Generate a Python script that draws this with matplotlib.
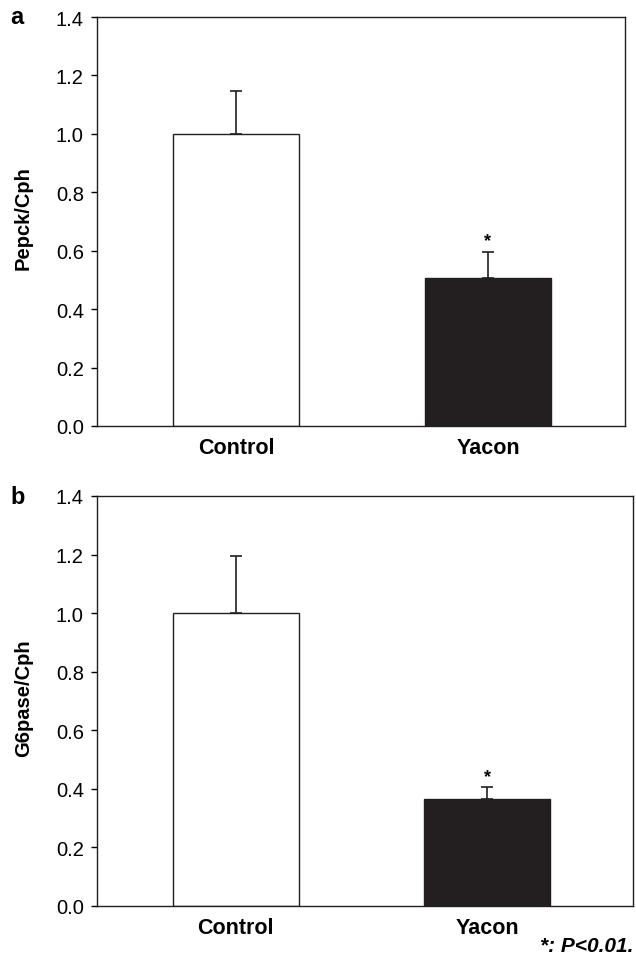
import matplotlib.pyplot as plt

plt.rcParams['font.family'] = ['Liberation Sans', 'DejaVu Sans']

# data
groups = ['Control', 'Yacon']
pepck = [1.0, 0.505]
pepck_err = [0.147, 0.092]
g6pase = [1.0, 0.365]
g6pase_err = [0.195, 0.040]
yticks = [0.0, 0.2, 0.4, 0.6, 0.8, 1.0, 1.2, 1.4]

fig = plt.figure(figsize=(6.36, 9.62), dpi=100)
ax_a = fig.add_axes([97 / 636, 1 - 427 / 962, 528 / 636, 409 / 962])
ax_b = fig.add_axes([97 / 636, 1 - 907 / 962, 536 / 636, 410 / 962])

panels = [
    (ax_a, pepck, pepck_err, 'Pepck/Cph', 'a', 1.544, 18, 528),
    (ax_b, g6pase, g6pase_err, 'G6pase/Cph', 'b', 1.580, 498, 536),
]

for ax, vals, errs, ylab, letter, xr, ly, w in panels:
    x = range(len(groups))
    ax.bar(x, vals, width=0.5, color=['white', '#231f20'],
           edgecolor='#231f20', linewidth=1.0, zorder=2)
    # upper error bars only
    ax.errorbar(x, vals, yerr=[[0, 0], errs], fmt='none', ecolor='#231f20',
                elinewidth=1.2, capsize=4, capthick=1.2, zorder=3)
    # significance star above Yacon
    ax.text(1, vals[1] + errs[1] + 0.008, '*', ha='center', va='bottom',
            fontsize=13, fontweight='bold')

    ax.set_xlim(-0.552, xr)
    ax.set_ylim(0, 1.4)
    ax.set_yticks(yticks)
    ax.set_yticklabels([f'{t:.1f}' for t in yticks], fontsize=14.5)
    ax.set_xticks(list(x))
    ax.set_xticklabels(groups, fontsize=15.5, fontweight='bold')
    ax.tick_params(axis='x', length=0, pad=8)
    ax.tick_params(axis='y', direction='out', length=4.5, width=1, pad=5)
    for s in ax.spines.values():
        s.set_linewidth(1.0)
        s.set_color('#231f20')
    ax.set_ylabel(ylab, fontsize=14.5, fontweight='bold')
    ax.yaxis.set_label_coords(-64 / w, 0.51)
    fig.text(10 / 636, 1 - ly / 962, letter, fontsize=17,
             fontweight='bold', ha='left', va='center')

fig.text(633 / 636, 1 - 947 / 962, '*: P<0.01.', ha='right', va='center',
         fontsize=15, fontweight='bold', style='italic')

plt.savefig('out.png', dpi=100, facecolor='white')
